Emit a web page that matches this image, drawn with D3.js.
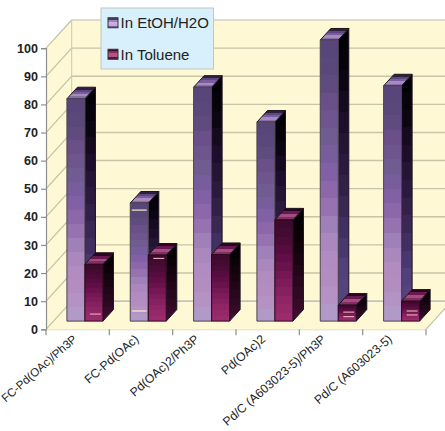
<!DOCTYPE html>
<html>
<head>
<meta charset="utf-8">
<script src="https://cdn.jsdelivr.net/npm/d3@7/dist/d3.min.js"></script>
<style>
html,body{margin:0;padding:0;background:#fff}
svg{display:block}
text{font-family:"Liberation Sans",Arial,sans-serif}
</style>
</head>
<body>
<svg id="chart" width="445" height="431"></svg>
<script>
const categories = ["FC-Pd(OAc)/Ph3P","FC-Pd(OAc)","Pd(OAc)2/Ph3P","Pd(OAc)2","Pd/C (A603023-5)/Ph3P","Pd/C (A603023-5)"];
const seriesNames = ["In EtOH/H2O","In Toluene"];
const ethanolWater = [79.1,42,83.2,70.8,100,83.7];
const toluene = [20.2,23.5,23.7,36,5.7,7.1];
const yTicks = [0,10,20,30,40,50,60,70,80,90,100];
// Pale streaks on the bars: category index, series index, value height
const streaks = [[1,0,39.5],[1,0,3.6],[0,1,2.5],[1,1,22.3],[4,1,3.2],[4,1,1.6],[5,1,3.6],[5,1,2.2]];

const svg = d3.select("#chart");

// Front-plane scales; depth is applied as a shear towards the upper right
const x = d3.scaleBand().domain(categories).range([46,426]).paddingInner(0).paddingOuter(0);
const y = d3.scaleLinear().domain([0,100]).range([329.3,48.2]);
const wallDepth = {dx:25.7, dy:-28.2};
const barInset = 0.29, barEnd = 0.70;
const shift = t => ({dx:wallDepth.dx*t, dy:wallDepth.dy*t});
const pts = a => a.map(p => p.join(",")).join(" ");

const wallFill = "#fef8d5";
const gridColor = "#c9c4a6";

// Stepped vertical fills in the manner of a banded gradient
const defs = svg.append("defs");
function banded(id, colors, n){
  const ramp = d3.piecewise(d3.interpolateRgb, colors);
  const g = defs.append("linearGradient").attr("id",id).attr("x1",0).attr("y1",0).attr("x2",0).attr("y2",1);
  d3.range(n).forEach(i=>{
    const c = ramp(i/(n-1));
    g.append("stop").attr("offset",i/n).attr("stop-color",c);
    g.append("stop").attr("offset",(i+1)/n).attr("stop-color",c);
  });
}
banded("front0",["#58467a","#5c4a7c","#6e508c","#705c90","#7e5ea4","#9069aa","#a080b8","#b08cc0","#b58dc0","#b29ac8"],16);
banded("side0",["#020104","#0d0614","#22102f","#2f1c42","#3f2c5c","#50407a","#574680"],14);
banded("top0",["#2c2040","#5e4680","#7a5ca0","#a68cbc","#8a6cac"],5);
banded("front1",["#3c0a2c","#4e0c38","#640f48","#7a1a58","#8e2464","#9a2c6c"],12);
banded("side1",["#000000","#0d0209","#1d0514","#2c0a20","#3e0c30"],10);
banded("top1",["#2a0620","#6a1850","#a05080","#8a2a60"],4);
banded("key0",["#4a3a70","#b89ad0","#dcc8ec","#7a5aa0"],5);
banded("key1",["#3a0a2c","#a03a70","#c87098","#5a1040"],5);

// Walls and floor
const p0 = [x.range()[0], y(0)], p100 = [x.range()[0], y(100)];
const right = x.range()[1];
svg.append("polygon").attr("fill",wallFill)
  .attr("points",pts([[p0[0],p100[1]],[p0[0]+wallDepth.dx,p100[1]+wallDepth.dy],[p0[0]+wallDepth.dx,p0[1]+wallDepth.dy],p0]));
svg.append("polygon").attr("fill",wallFill)
  .attr("points",pts([[p0[0]+wallDepth.dx,p100[1]+wallDepth.dy],[right+wallDepth.dx,p100[1]+wallDepth.dy],[right+wallDepth.dx,p0[1]+wallDepth.dy],[p0[0]+wallDepth.dx,p0[1]+wallDepth.dy]]));
svg.append("polygon").attr("fill",wallFill)
  .attr("points",pts([p0,[p0[0]+wallDepth.dx,p0[1]+wallDepth.dy],[right+wallDepth.dx,p0[1]+wallDepth.dy],[right,p0[1]]]));

// Gridlines across the side wall and the back wall
const grid = svg.append("g");
yTicks.forEach(t=>{
  const yy = y(t), bx = p0[0]+wallDepth.dx, by = yy+wallDepth.dy;
  const col = t===0 ? "#9a9ab4" : gridColor;
  grid.append("line").attr("x1",p0[0]).attr("y1",yy).attr("x2",bx).attr("y2",by).attr("stroke","#c4c0a8").attr("stroke-width",1.2);
  grid.append("line").attr("x1",bx).attr("y1",by).attr("x2",right+wallDepth.dx).attr("y2",by)
    .attr("stroke",t===100?"#d2d0c8":col).attr("stroke-width",t===0?1:1.4);
});
grid.append("line").attr("x1",p0[0]+wallDepth.dx).attr("y1",y(100)+wallDepth.dy).attr("x2",p0[0]+wallDepth.dx).attr("y2",y(0)+wallDepth.dy).attr("stroke","#c9c8c0").attr("stroke-width",1);
grid.append("line").attr("x1",right).attr("y1",y(0)).attr("x2",right+wallDepth.dx).attr("y2",y(0)+wallDepth.dy).attr("stroke","#c4c0a8").attr("stroke-width",1.2);

// Value axis and category ticks
const axisColor = "#8f8f8f";
const axisY = d3.axisLeft(y).tickValues(yTicks).tickSize(5).tickPadding(3).tickFormat(d3.format("d"));
const gy = svg.append("g").attr("transform",`translate(${p0[0]},0)`).call(axisY);
gy.selectAll("path,line").attr("stroke",axisColor).attr("stroke-width",1.2);
gy.selectAll("text").attr("font-size",12.6).attr("font-weight","bold").attr("fill","#222");
const axisX = d3.axisBottom(x).tickSize(0).tickFormat("");
const gx = svg.append("g").attr("transform",`translate(0,${y(0)})`).call(axisX);
gx.select("path").attr("stroke","#dedcc8").attr("stroke-width",1);
const edges = [...categories.map(c=>x(c)), right];
gx.selectAll("line.edge").data(edges).join("line").attr("class","edge")
  .attr("x1",d=>d).attr("x2",d=>d).attr("y1",0).attr("y2",6).attr("stroke",axisColor).attr("stroke-width",1.2);

// Category labels, slanted up to the right; the first is set slightly smaller to stay on the page
svg.append("g").selectAll("text").data(categories).join("text")
  .attr("text-anchor","end").attr("font-size",(d,i)=>i===0?11.6:12.2).attr("fill","#222")
  .attr("transform",(d,i)=>`translate(${x(d)+x.bandwidth()/2-(i===0?0:(i%2?1.5:4.5))},${y(0)+11}) rotate(-41)`)
  .text(d=>d);

// Bars: front, side and top faces
const series = [ethanolWater, toluene];
const front = shift(barInset), back = shift(barEnd);
const baseY = v => y(v)+front.dy;
const barW = 18;
const bars = svg.append("g");
const edge = "#1c1420";
categories.forEach((c,ci)=>{
  series.forEach((vals,si)=>{
    const v = vals[ci];
    const x0 = x(c)+x.bandwidth()/2-barW+si*barW+front.dx - 0.2;
    const x1 = x0+barW;
    const ddx = back.dx-front.dx, ddy = back.dy-front.dy;
    const yT = baseY(v), yB = baseY(0);
    const g = bars.append("g").attr("stroke",edge).attr("stroke-width",1).attr("stroke-linejoin","round");
    g.append("polygon").attr("fill",`url(#side${si})`)
      .attr("points",pts([[x1,yT],[x1+ddx,yT+ddy],[x1+ddx,yB+ddy],[x1,yB]]));
    g.append("polygon").attr("fill",`url(#top${si})`)
      .attr("points",pts([[x0,yT],[x0+ddx,yT+ddy],[x1+ddx,yT+ddy],[x1,yT]]));
    g.append("rect").attr("x",x0).attr("y",yT).attr("width",barW).attr("height",yB-yT)
      .attr("fill",`url(#front${si})`).attr("stroke",si?"#2c0a20":"#4c4650");
    streaks.filter(s=>s[0]===ci && s[1]===si).forEach(s=>{
      g.append("line").attr("x1",x0+(si?5:1.5)).attr("x2",x1-(si?2:1.5)).attr("y1",baseY(s[2])).attr("y2",baseY(s[2]))
        .attr("stroke",si?"#e0a8b0":"#f6efc8").attr("stroke-width",1.2);
    });
  });
});

// Legend
const legend = svg.append("g");
const lx = d3.scaleLinear().domain([0,1]).range([101,213.5]);
const ly = d3.scaleBand().domain(seriesNames).range([8,69]);
legend.append("rect").attr("x",lx(0)).attr("y",ly.range()[0]).attr("width",lx(1)-lx(0)).attr("height",ly.range()[1]-ly.range()[0])
  .attr("fill","#d8f0fb").attr("stroke","#c2c6c4").attr("stroke-width",1);
seriesNames.forEach((n,i)=>{
  const cy = ly(n)+ly.bandwidth()/2 + (i?0.5:-0.5);
  legend.append("rect").attr("x",108).attr("y",cy-5).attr("width",10).attr("height",10)
    .attr("fill",`url(#key${i})`).attr("stroke","#333").attr("stroke-width",1);
  legend.append("text").attr("x",120.5).attr("y",cy+5.5).attr("font-size",15).attr("fill","#222").text(n);
});
</script>
</body>
</html>
